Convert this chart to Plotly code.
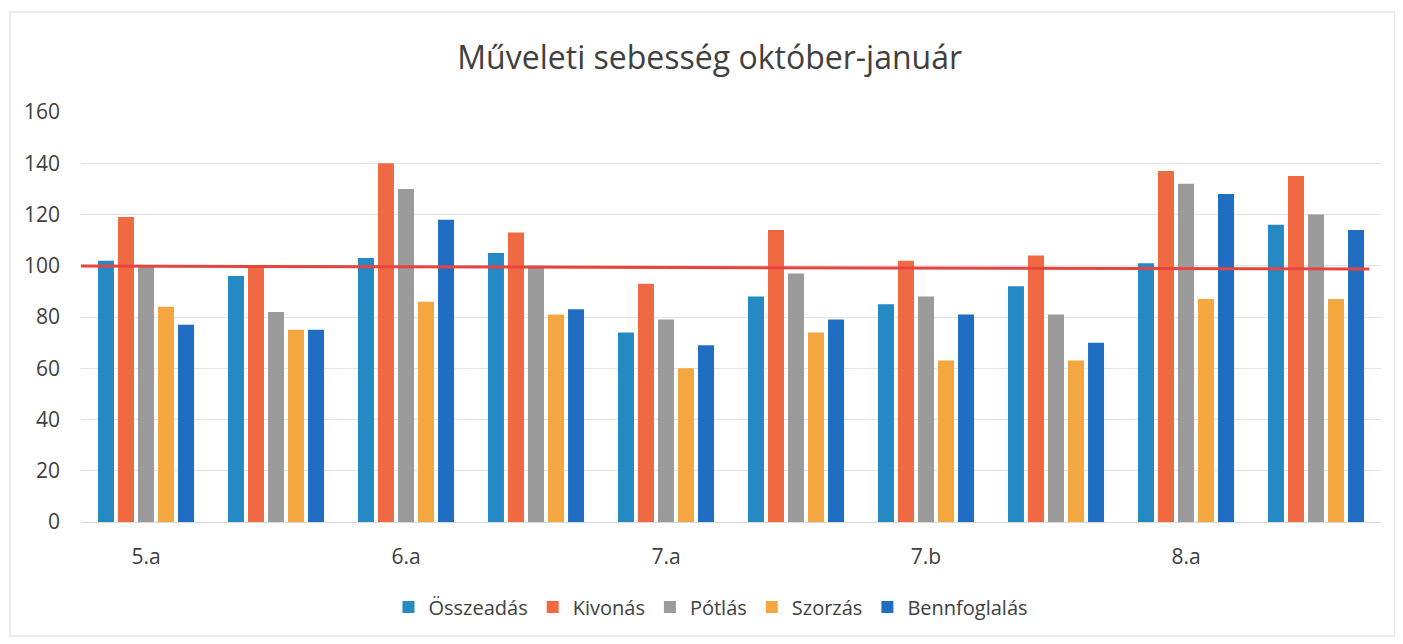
import plotly.graph_objects as go

groups = ["5.a", "", "6.a", "", "7.a", "", "7.b", "", "8.a", ""]
series_names = ["Összeadás", "Kivonás", "Pótlás", "Szorzás", "Bennfoglalás"]
osszeadas = [102, 96, 103, 105, 74, 88, 85, 92, 101, 116]
kivonas = [119, 100, 140, 113, 93, 114, 102, 104, 137, 135]
potlas = [100, 82, 130, 100, 79, 97, 88, 81, 132, 120]
szorzas = [84, 75, 86, 81, 60, 74, 63, 63, 87, 87]
bennfoglalas = [77, 75, 118, 83, 69, 79, 81, 70, 128, 114]
ref_start = 99.9
ref_end = 98.7
y_ticks = [0, 20, 40, 60, 80, 100, 120, 140, 160]

colors = ["#2589C4", "#EF6A43", "#9B9B9B", "#F4A640", "#1F6EC2"]
FONT = "Open Sans"
TXT = "#404040"

x = list(range(len(groups)))
fig = go.Figure()
for name, vals, c in zip(series_names, [osszeadas, kivonas, potlas, szorzas, bennfoglalas], colors):
    fig.add_trace(go.Bar(x=x, y=vals, name=name, marker_color=c, marker_line_width=0))

fig.add_shape(type="line", xref="paper", yref="y", x0=0, x1=0.991, y0=ref_start, y1=ref_end,
              line=dict(color="#E8433F", width=3), layer="above")
fig.add_shape(type="rect", xref="paper", yref="paper", x0=-0.0546, x1=1.0108, y0=-0.278, y1=1.244,
              line=dict(color="#D9D9D9", width=1))

fig.update_layout(
    width=1395, height=636,
    margin=dict(l=73, r=22, t=104, b=122, autoexpand=False),
    paper_bgcolor="white", plot_bgcolor="white",
    barmode="group", bargap=0.23, bargroupgap=0.2,
    title=dict(text="Műveleti sebesség október-január", x=0.503, xanchor="center",
               yref="container", y=0.921, yanchor="middle",
               font=dict(family=FONT, size=32, color=TXT)),
    font=dict(family=FONT, color=TXT),
    showlegend=True,
    legend=dict(orientation="h", x=0.4846, xanchor="center", yref="container", y=0.058, yanchor="middle",
                font=dict(size=20, color=TXT), itemwidth=30, traceorder="normal",
                bgcolor="rgba(0,0,0,0)"),
    xaxis=dict(tickmode="array", tickvals=[i for i, g in enumerate(groups) if g],
               ticktext=[g for g in groups if g], range=[-0.5, len(groups) - 0.5],
               showgrid=False, zeroline=False, showline=True, linecolor="#D9D9D9",
               ticks="", tickfont=dict(size=21, color=TXT), ticklabelstandoff=16, automargin=False),
    yaxis=dict(range=[0, 160], tickvals=y_ticks, showgrid=True, gridcolor="#E3E3E3", gridwidth=1,
               zeroline=False, showline=False, ticks="", tickfont=dict(size=21, color=TXT),
               ticklabelstandoff=20, automargin=False),
)

fig.write_html("out.html")
